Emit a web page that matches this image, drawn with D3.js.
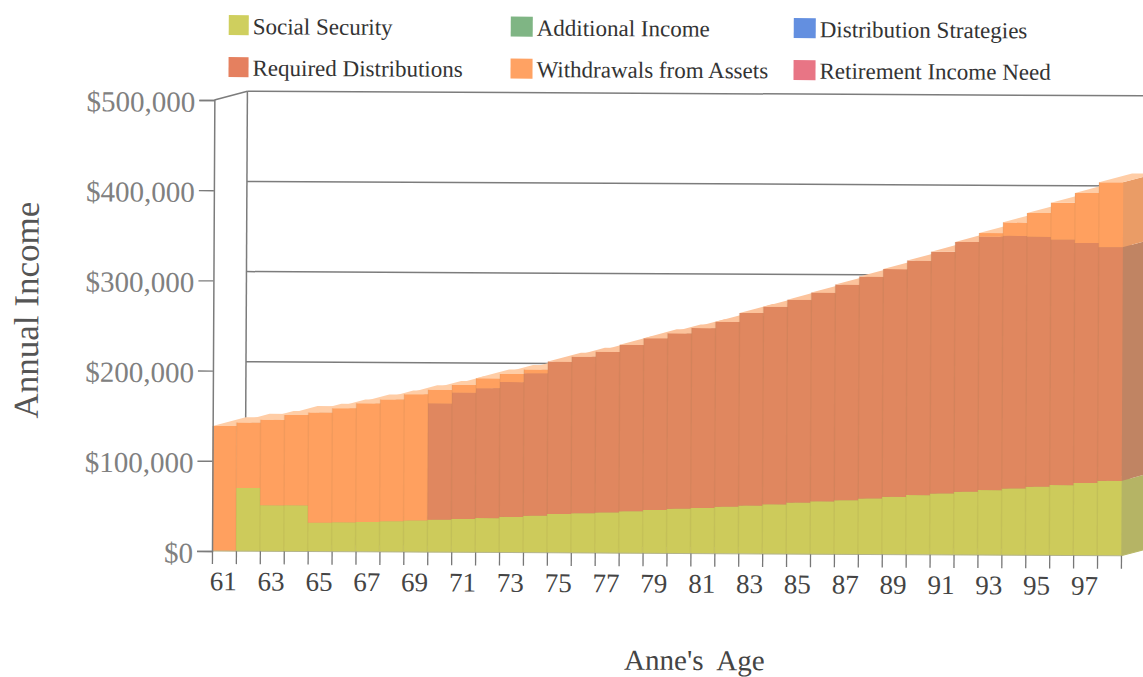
<!DOCTYPE html>
<html>
<head>
<meta charset="utf-8">
<script src="https://cdn.jsdelivr.net/npm/d3@7/dist/d3.min.js"></script>
<style>
  html, body { margin: 0; padding: 0; background: #fff; overflow: hidden; }
  svg { display: block; font-family: "Liberation Serif", serif; }
  text { white-space: pre; }
</style>
</head>
<body>
<svg id="chart" width="1143" height="677"></svg>
<script>
// Annual income by age, in dollars
const ages = d3.range(61, 99);
const socialSecurity = [0, 70000, 51000, 51000, 32000, 32500, 33000, 34000, 35000, 36000,
  37000, 38000, 39500, 41000, 43000, 44000, 45000, 46500, 48000, 49500,
  50500, 52000, 53500, 55000, 57000, 58500, 60000, 62000, 64000, 66000,
  68000, 70000, 72000, 74000, 76000, 78000, 80500, 83000];
const requiredDistributions = [0, 0, 0, 0, 0, 0, 0, 0, 0, 129000,
  140000, 144000, 149500, 158000, 169000, 173500, 178000, 184500, 190500, 194500,
  199500, 205000, 213500, 219000, 225000, 231500, 239000, 246000, 252500, 260000,
  268000, 277000, 281000, 280000, 277000, 272000, 266000, 259000];
const withdrawals = [138600, 72500, 94700, 100300, 122000, 126500, 131600, 135000, 140000, 15000,
  8500, 11000, 9000, 4000, 0, 0, 0, 0, 0, 0,
  0, 0, 0, 0, 0, 0, 0, 0, 0, 0,
  0, 0, 4000, 15000, 26500, 41000, 55500, 72000];

const legendLabels = [
  ["Social Security", "Required Distributions"],
  ["Additional Income", "Withdrawals from Assets"],
  ["Distribution Strategies", "Retirement Income Need"]
];
const legendColors = [
  ["#cfcf5e", "#e5805f"],
  ["#7fb584", "#ffa263"],
  ["#638fe0", "#e87585"]
];
const yTicks = [0, 100000, 200000, 300000, 400000, 500000];
const labelledAges = ages.filter(a => a % 2 === 1);

const faces = {
  social:   { front: "#cdcb5b", top: "#dcdc80", side: "#b5b465" },
  required: { front: "#e0875f", top: "#fcc39c", side: "#c08463" },
  withdraw: { front: "#ffa05f", top: "#ffcda6", side: "#ea9c66" }
};

const depthX = 33, depthY = -9;
const x = d3.scaleLinear().domain([61, 99]).range([212, 1121]);
const y = d3.scaleLinear().domain([0, 500000]).range([551, 100]);

const svg = d3.select("#chart");
// The whole drawing sits at a very slight clockwise slant
const root = svg.append("g").attr("transform", "rotate(0.3 212 551)");

// Back wall, left wall and gridlines
const wall = root.append("g").attr("fill", "none").attr("stroke", "#7c7c7c").attr("stroke-width", 1.5);
wall.append("line")
  .attr("x1", x(61) + depthX).attr("x2", x(61) + depthX)
  .attr("y1", y(500000) + depthY).attr("y2", y(0) + depthY);
wall.append("line")
  .attr("x1", x(61)).attr("x2", x(61) + depthX)
  .attr("y1", y(500000)).attr("y2", y(500000) + depthY);
wall.selectAll("line.grid").data(yTicks.slice(1)).join("line").attr("class", "grid")
  .attr("x1", x(61) + depthX).attr("x2", 1170)
  .attr("y1", d => y(d) + depthY).attr("y2", d => y(d) + depthY);

// Stacked 3D columns, painted left to right so each one covers its neighbour's side
const rows = ages.map((age, i) => ({
  age,
  social: socialSecurity[i],
  required: requiredDistributions[i],
  withdraw: withdrawals[i]
}));
const series = d3.stack().keys(["social", "required", "withdraw"])(rows);

const poly = pts => pts.map(p => p.join(",")).join(" ");
const bars = root.append("g");
rows.forEach((row, i) => {
  const x0 = x(row.age), x1 = x(row.age + 1);
  const col = bars.append("g");
  let topKey = null, topValue = 0;
  series.forEach(s => {
    const [v0, v1] = s[i];
    if (v1 <= v0) return;
    const face = faces[s.key];
    // right side of this segment
    col.append("polygon").attr("fill", face.side).attr("points", poly([
      [x1, y(v0)], [x1 + depthX, y(v0) + depthY], [x1 + depthX, y(v1) + depthY], [x1, y(v1)]
    ]));
    // front of this segment
    col.append("rect").attr("fill", face.front)
      .attr("x", x0).attr("width", x1 - x0 + 0.3)
      .attr("y", y(v1)).attr("height", y(v0) - y(v1));
    topKey = s.key;
    topValue = v1;
  });
  col.append("polygon").attr("fill", faces[topKey].top).attr("points", poly([
    [x0, y(topValue)], [x1, y(topValue)],
    [x1 + depthX, y(topValue) + depthY], [x0 + depthX, y(topValue) + depthY]
  ]));
  // soft seam between neighbouring columns
  if (i > 0) {
    col.append("line")
      .attr("x1", x0).attr("x2", x0)
      .attr("y1", y(0)).attr("y2", y(topValue))
      .attr("stroke", "#8a6a40").attr("stroke-opacity", 0.09).attr("stroke-width", 1.5);
  }
});

// Floor edge running back from the last column
root.append("line")
  .attr("x1", x(99)).attr("x2", x(99) + depthX)
  .attr("y1", y(0)).attr("y2", y(0) + depthY)
  .attr("stroke", "#b9b96a").attr("stroke-width", 1);
root.append("line")
  .attr("x1", x(61)).attr("x2", x(99))
  .attr("y1", y(0)).attr("y2", y(0))
  .attr("stroke", "#b4b48c").attr("stroke-width", 1);

// Y axis
const yAxis = root.append("g")
  .attr("transform", `translate(${x(61)},0)`)
  .call(d3.axisLeft(y).tickValues(yTicks).tickSize(15).tickPadding(4)
    .tickFormat(d => "$" + d3.format(",")(d)));
yAxis.select(".domain").attr("stroke", "#7c7c7c").attr("stroke-width", 1.5);
yAxis.selectAll(".tick line").attr("stroke", "#7c7c7c").attr("stroke-width", 1.4);
yAxis.selectAll("text").attr("fill", "#808080").attr("dy", "0.39em")
  .style("font-family", '"Liberation Serif", serif').style("font-size", "29px");

// X axis: marks on column edges, labels centred in the columns
const xTicks = root.append("g")
  .attr("transform", `translate(0,${y(0)})`)
  .call(d3.axisBottom(x).tickValues(d3.range(61, 100)).tickSize(13).tickFormat(""));
xTicks.select(".domain").remove();
xTicks.selectAll(".tick line").attr("stroke", "#777").attr("stroke-width", 1.3);

const xLabels = root.append("g")
  .attr("transform", `translate(-1,${y(0)})`)
  .call(d3.axisBottom(x).tickValues(labelledAges.map(a => a + 0.5)).tickSize(0).tickPadding(20)
    .tickFormat(d => String(d - 0.5)));
xLabels.select(".domain").remove();
xLabels.selectAll("text").attr("fill", "#444")
  .style("font-family", '"Liberation Serif", serif').style("font-size", "27px");

// Axis titles
root.append("text")
  .attr("transform", "translate(37,311) rotate(-90)")
  .attr("text-anchor", "middle").attr("fill", "#555")
  .style("font-size", "35px").text("Annual Income");
root.append("text")
  .attr("x", 695).attr("y", 667.5)
  .attr("text-anchor", "middle").attr("fill", "#444")
  .style("font-size", "29px").text("Anne's  Age");

// Legend
const legendX = [226, 508, 791];
const legendY = [16, 58];
const legend = root.append("g");
legendLabels.forEach((column, c) => {
  column.forEach((label, r) => {
    legend.append("rect")
      .attr("x", legendX[c]).attr("y", legendY[r] - 1)
      .attr("width", c > 0 ? 22 : 20).attr("height", 20)
      .attr("fill", legendColors[c][r]);
    legend.append("text")
      .attr("x", legendX[c] + (c > 0 ? 26 : 24)).attr("y", legendY[r] + 18 - r * 0.5)
      .attr("fill", "#333").style("font-size", "23px").text(label);
  });
});
</script>
</body>
</html>
